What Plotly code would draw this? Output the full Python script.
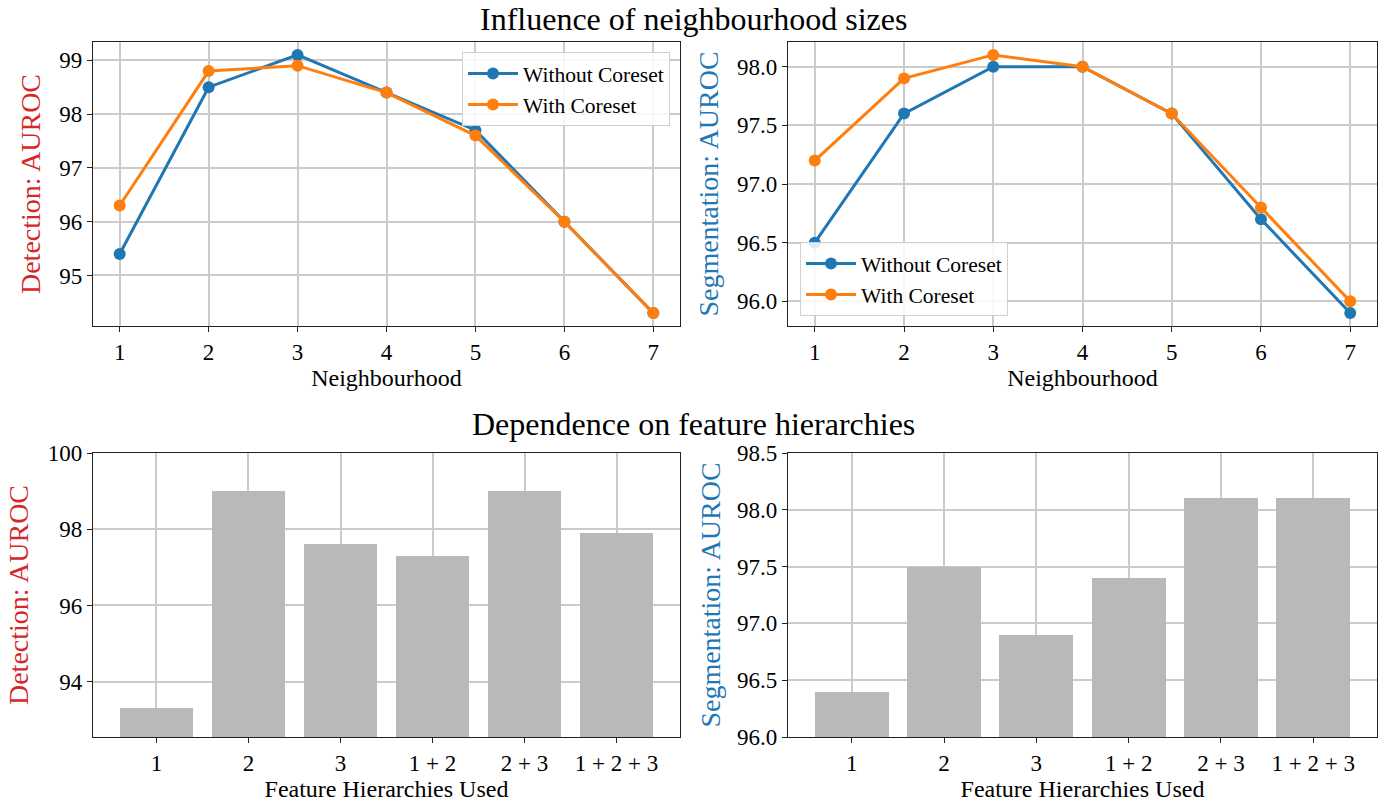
import plotly.graph_objects as go
from plotly.subplots import make_subplots

# neighbourhood sweep
neighbourhood = [1, 2, 3, 4, 5, 6, 7]
det_without = [95.4, 98.5, 99.1, 98.4, 97.7, 96.0, 94.3]
det_with = [96.3, 98.8, 98.9, 98.4, 97.6, 96.0, 94.3]
seg_without = [96.5, 97.6, 98.0, 98.0, 97.6, 96.7, 95.9]
seg_with = [97.2, 97.9, 98.1, 98.0, 97.6, 96.8, 96.0]

# feature hierarchies
hierarchies = ["1", "2", "3", "1 + 2", "2 + 3", "1 + 2 + 3"]
det_hier = [93.3, 99.0, 97.6, 97.3, 99.0, 97.9]
seg_hier = [96.4, 97.5, 96.9, 97.4, 98.1, 98.1]

BLUE = "#1f77b4"
ORANGE = "#ff7f0e"
RED = "#d62728"
FONT = "Liberation Serif"
W, H = 1386, 806


def fx(px):
    return px / W


def fy(py):
    return 1 - py / H


fig = make_subplots(rows=2, cols=2)

def add_lines(row, col, without, with_, legend):
    fig.add_trace(go.Scatter(x=neighbourhood, y=without, mode="lines+markers",
                             name="Without Coreset", legend=legend,
                             line=dict(color=BLUE, width=3),
                             marker=dict(color=BLUE, size=12)), row=row, col=col)
    fig.add_trace(go.Scatter(x=neighbourhood, y=with_, mode="lines+markers",
                             name="With Coreset", legend=legend,
                             line=dict(color=ORANGE, width=3),
                             marker=dict(color=ORANGE, size=12)), row=row, col=col)

add_lines(1, 1, det_without, det_with, "legend")
add_lines(1, 2, seg_without, seg_with, "legend2")

for col, vals in [(1, det_hier), (2, seg_hier)]:
    fig.add_trace(go.Bar(x=list(range(len(hierarchies))), y=vals, width=0.8,
                         marker=dict(color="#b9b9b9", line=dict(width=0)),
                         showlegend=False), row=2, col=col)

# domains taken from the reference layout
xl = [fx(93), fx(680)]
xr = [fx(788), fx(1377)]
yt = [fy(326), fy(42)]
yb = [fy(737), fy(453)]

axis_style = dict(showline=True, mirror=True, linecolor="#222222", linewidth=1.4,
                  ticks="outside", ticklen=5, tickcolor="#222222",
                  showgrid=True, gridcolor="#cbcbcb", gridwidth=1.5, zeroline=False,
                  tickfont=dict(size=23, color="black", family=FONT))
title_font = dict(size=24, color="black", family=FONT)

fig.update_xaxes(**axis_style)
fig.update_yaxes(**axis_style)

fig.update_xaxes(domain=xl, range=[0.7, 7.3], dtick=1,
                 title=dict(text="Neighbourhood", font=title_font, standoff=2), row=1, col=1)
fig.update_xaxes(domain=xr, range=[0.7, 7.3], dtick=1,
                 title=dict(text="Neighbourhood", font=title_font, standoff=2), row=1, col=2)
for col, dom in [(1, xl), (2, xr)]:
    fig.update_xaxes(domain=dom, range=[-0.69, 5.69], tickmode="array",
                     tickvals=list(range(len(hierarchies))), ticktext=hierarchies,
                     title=dict(text="Feature Hierarchies Used", font=title_font, standoff=2),
                     row=2, col=col)

fig.update_yaxes(domain=yt, range=[94.06, 99.34], dtick=1,
                 title=dict(text="Detection: AUROC", font=dict(size=28, color=RED, family=FONT), standoff=10),
                 row=1, col=1)
fig.update_yaxes(domain=yt, range=[95.79, 98.21], dtick=0.5, tickformat=".1f",
                 title=dict(text="Segmentation: AUROC", font=dict(size=28, color=BLUE, family=FONT), standoff=10),
                 row=1, col=2)
fig.update_yaxes(domain=yb, range=[92.55, 100], tick0=94, dtick=2,
                 title=dict(text="Detection: AUROC", font=dict(size=28, color=RED, family=FONT), standoff=10),
                 row=2, col=1)
fig.update_yaxes(domain=yb, range=[96.0, 98.5], dtick=0.5, tickformat=".1f",
                 title=dict(text="Segmentation: AUROC", font=dict(size=28, color=BLUE, family=FONT), standoff=8),
                 row=2, col=2)

legend_style = dict(bgcolor="rgba(255,255,255,0.85)", bordercolor="#d0d0d0", borderwidth=1,
                    font=dict(size=21.5, color="black", family=FONT), tracegroupgap=0,
                    itemwidth=50)
fig.update_layout(
    width=W, height=H,
    margin=dict(l=0, r=0, t=0, b=0, autoexpand=False),
    plot_bgcolor="white", paper_bgcolor="white",
    font=dict(family=FONT, color="black"),
    bargap=0,
    legend=dict(x=fx(670), y=fy(52), xanchor="right", yanchor="top", **legend_style),
    legend2=dict(x=fx(800), y=fy(316), xanchor="left", yanchor="bottom", **legend_style),
    annotations=[
        dict(text="Influence of neighbourhood sizes", x=fx(693), y=fy(19),
             xref="paper", yref="paper", xanchor="center", yanchor="middle",
             showarrow=False, font=dict(size=32, family=FONT)),
        dict(text="Dependence on feature hierarchies", x=fx(693), y=fy(424),
             xref="paper", yref="paper", xanchor="center", yanchor="middle",
             showarrow=False, font=dict(size=32, family=FONT)),
    ],
)

# drop the default page margin so the figure sits at the window corner
fig.write_html("out.html", config={"displayModeBar": False},
               post_script="document.body.style.margin='0';")
